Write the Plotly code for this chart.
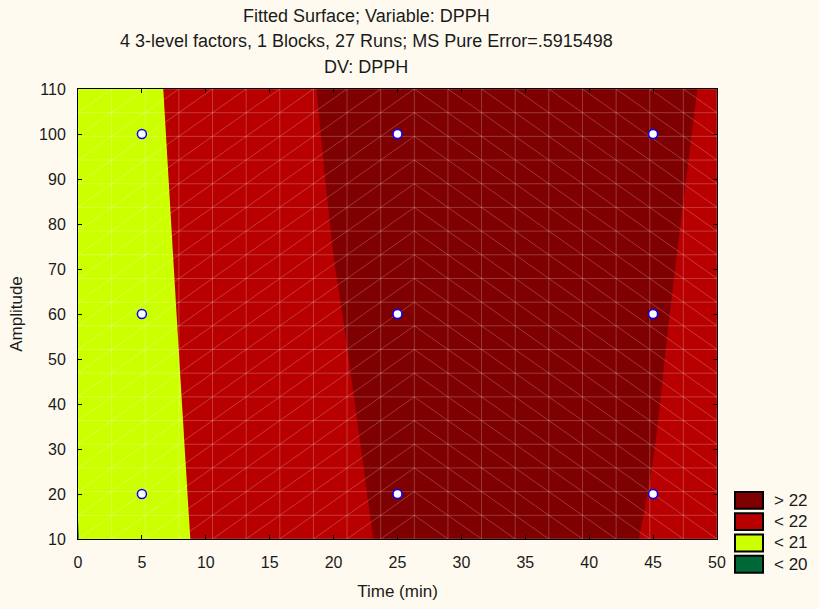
import numpy as np
import plotly.graph_objects as go

# ---- data ----
time_grid = [0, 5, 10, 15, 20, 25, 30, 35, 40, 45, 50]
amp_grid = [10, 60, 110]
dpph_z = [
    [19.99, 20.613, 21.124, 21.538, 21.853, 22.09, 22.191, 22.212, 22.136, 21.961, 21.689],
    [20.106, 20.720, 21.236, 21.652, 21.970, 22.188, 22.307, 22.328, 22.249, 22.072, 21.795],
    [20.206, 20.826, 21.346, 21.766, 22.086, 22.305, 22.424, 22.443, 22.362, 22.181, 21.92],
]
design_time = [5, 5, 5, 25, 25, 25, 45, 45, 45]
design_amp = [20, 60, 100, 20, 60, 100, 20, 60, 100]

level_labels = ["> 22", "< 22", "< 21", "< 20"]
level_colors = ["#7F0000", "#B90000", "#CCFF00", "#006837"]

x_ticks = [0, 5, 10, 15, 20, 25, 30, 35, 40, 45, 50]
y_ticks = [10, 20, 30, 40, 50, 60, 70, 80, 90, 100, 110]

# ---- figure ----
W, H = 819, 609
ML, MR, MT, MB = 78, 102, 89, 66
PW, PH = W - ML - MR, H - MT - MB
FONT = "Liberation Sans, Arial, sans-serif"
TXT = "#1a1a1a"
BG = "#FFFAF0"

fig = go.Figure()

fig.add_trace(go.Contour(
    x=time_grid, y=amp_grid, z=dpph_z,
    contours=dict(start=20, end=22, size=1, coloring="fill"),
    colorscale=[[0, level_colors[3]], [1/3, level_colors[2]],
                [2/3, level_colors[1]], [1, level_colors[0]]],
    line=dict(width=0),
    showscale=False, hoverinfo="skip",
))

# triangulated mesh overlay (19 x 19 cells)
mx = np.linspace(min(time_grid), max(time_grid), 20)
my = np.linspace(min(amp_grid), max(amp_grid), 20)
lx, ly = [], []
for v in mx:
    lx += [v, v, None]; ly += [my[0], my[-1], None]
for v in my:
    lx += [mx[0], mx[-1], None]; ly += [v, v, None]
for i in range(19):
    for j in range(19):
        if i < 10:
            lx += [mx[i], mx[i + 1], None]; ly += [my[j], my[j + 1], None]
        else:
            lx += [mx[i], mx[i + 1], None]; ly += [my[j + 1], my[j], None]
fig.add_trace(go.Scatter(
    x=lx, y=ly, mode="lines",
    line=dict(color="rgba(255,255,255,0.22)", width=1),
    hoverinfo="skip", showlegend=False,
))

fig.add_trace(go.Scatter(
    x=design_time, y=design_amp, mode="markers",
    marker=dict(size=9, color="white", line=dict(color="#0000FF", width=1.5)),
    hoverinfo="skip", showlegend=False,
))

axis_common = dict(
    showgrid=False, zeroline=False, showline=True, linecolor="black", linewidth=1,
    mirror="ticks", ticks="inside", ticklen=4, tickcolor="black",
    layer="above traces", tickfont=dict(family=FONT, size=16, color=TXT),
)
fig.update_xaxes(range=[0, 50], tickvals=x_ticks,
                 title=dict(text="Time (min)", font=dict(family=FONT, size=17, color=TXT), standoff=14),
                 ticklabelstandoff=9, **axis_common)
fig.update_yaxes(range=[10, 110], tickvals=y_ticks,
                 title=dict(text="Amplitude", font=dict(family=FONT, size=17, color=TXT), standoff=12),
                 ticklabelstandoff=8, **axis_common)

def px2x(px):
    return (px - ML) / PW

def py2y(py):
    return (H - MB - py) / PH

annotations = []
for txt, py in [("Fitted Surface; Variable: DPPH", 15.5),
                ("4 3-level factors, 1 Blocks, 27 Runs; MS Pure Error=.5915498", 41),
                ("DV: DPPH", 66.5)]:
    annotations.append(dict(text=txt, xref="paper", yref="paper", x=px2x(366), y=py2y(py),
                            xanchor="center", yanchor="middle", showarrow=False,
                            font=dict(family=FONT, size=18, color=TXT)))

shapes = []
box_tops = [495.5, 517, 538.5, 560]
for lab, col, top in zip(level_labels, level_colors, box_tops):
    shapes.append(dict(type="rect", xref="paper", yref="paper",
                       x0=px2x(735), x1=px2x(763), y0=py2y(top + 17), y1=py2y(top),
                       fillcolor=col, line=dict(color="black", width=2), layer="above"))
    annotations.append(dict(text=lab, xref="paper", yref="paper", x=px2x(772), y=py2y(top + 8.5),
                            xanchor="left", yanchor="middle", showarrow=False,
                            font=dict(family=FONT, size=17, color=TXT)))

fig.update_layout(
    width=W, height=H,
    margin=dict(l=ML, r=MR, t=MT, b=MB),
    paper_bgcolor=BG, plot_bgcolor=BG,
    showlegend=False,
    annotations=annotations, shapes=shapes,
)

fig.write_html("out.html")
